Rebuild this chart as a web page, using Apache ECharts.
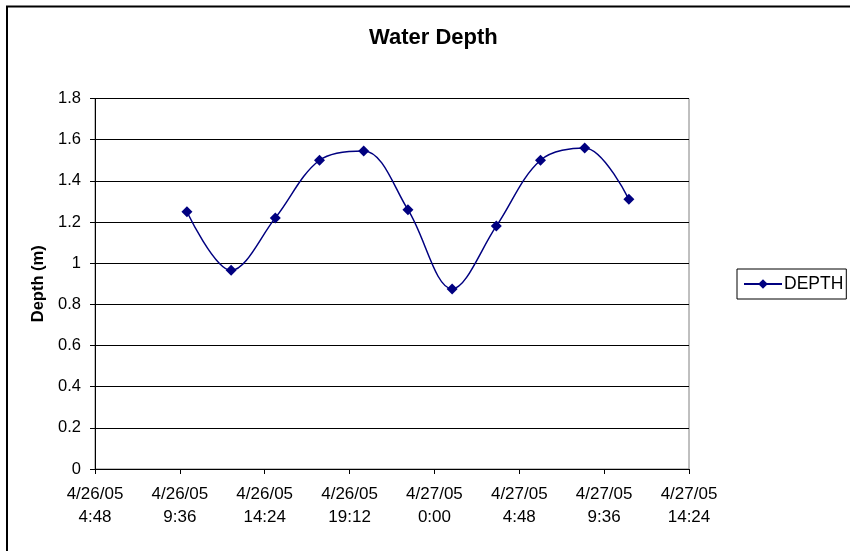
<!DOCTYPE html>
<html>
<head>
<meta charset="UTF-8">
<title>Water Depth</title>
<script src="https://cdn.jsdelivr.net/npm/echarts@6/dist/echarts.min.js"></script>
<style>
  html, body { margin: 0; padding: 0; background: #fff; }
  #main { width: 850px; height: 551px; }
</style>
</head>
<body>
<div id="main"></div>
<script>
// readings, every 2.5 h
var times = ['4/26/05 10:00', '4/26/05 12:30', '4/26/05 15:00', '4/26/05 17:30', '4/26/05 20:00',
             '4/26/05 22:30', '4/27/05 1:00', '4/27/05 3:30', '4/27/05 6:00', '4/27/05 8:30', '4/27/05 11:00'];
var depth = [1.25, 0.965, 1.22, 1.50, 1.545, 1.26, 0.875, 1.18, 1.50, 1.56, 1.31];

// x axis runs in hours from 4/26/05 0:00
var xMin = 4.8, xMax = 38.4, xStep = 4.8;

function toHours(s) {
  var p = s.split(' '), d = p[0].split('/'), t = p[1].split(':');
  return (parseInt(d[1], 10) - 26) * 24 + parseInt(t[0], 10) + parseInt(t[1], 10) / 60;
}
function hoursLabel(v) {
  var m = Math.round(v * 60);
  var day = 26 + Math.floor(m / 1440);
  m = m % 1440;
  var h = Math.floor(m / 60), mm = m % 60;
  return '4/' + day + '/05\n' + h + ':' + (mm < 10 ? '0' : '') + mm;
}

var seriesData = [];
for (var i = 0; i < times.length; i++) seriesData.push([toHours(times[i]), depth[i]]);

var font = 'Liberation Sans, Arial, sans-serif';
var chart = echarts.init(document.getElementById('main'));

chart.setOption({
  backgroundColor: '#fff',
  animation: false,
  title: {
    text: 'Water Depth',
    left: 364, top: 22,
    textStyle: { fontFamily: font, fontSize: 22, fontWeight: 'bold', color: '#000' }
  },
  graphic: [{
    type: 'rect', silent: true,
    shape: { x: 7, y: 6.5, width: 860, height: 570 },
    style: { fill: null, stroke: '#000', lineWidth: 2 }
  }],
  legend: {
    left: 737, top: 269,
    orient: 'vertical',
    data: ['DEPTH'],
    itemWidth: 38, itemHeight: 12, itemGap: 0,
    padding: [6, 3, 6, 6],
    borderColor: '#000', borderWidth: 1,
    textStyle: { fontFamily: font, fontSize: 17.5, color: '#000', padding: [0, 0, 0, -3] }
  },
  grid: { left: 95, top: 98.5, right: 161, bottom: 82, show: true, borderColor: '#808080', borderWidth: 1 },
  xAxis: {
    type: 'value',
    min: xMin, max: xMax, interval: xStep,
    axisLine: { show: true, onZero: false, lineStyle: { color: '#000', width: 1 } },
    axisTick: { show: true, length: 5, lineStyle: { color: '#000' } },
    splitLine: { show: false },
    axisLabel: {
      formatter: hoursLabel, margin: 14,
      fontFamily: font, fontSize: 17, lineHeight: 23, color: '#000',
      showMinLabel: true, showMaxLabel: true
    }
  },
  yAxis: {
    type: 'value',
    min: 0, max: 1.8, interval: 0.2,
    name: 'Depth (m)',
    nameLocation: 'middle', nameGap: 48,
    nameTextStyle: { fontFamily: font, fontSize: 16.5, fontWeight: 'bold', color: '#000' },
    axisLine: { show: true, lineStyle: { color: '#000', width: 1 } },
    axisTick: { show: true, length: 5, lineStyle: { color: '#000' } },
    splitLine: { show: true, lineStyle: { color: '#000', width: 1 } },
    axisLabel: {
      formatter: function (v) { return String(Math.round(v * 10) / 10); },
      margin: 14, fontFamily: font, fontSize: 16.5, color: '#000'
    }
  },
  series: [{
    name: 'DEPTH',
    type: 'line',
    data: seriesData,
    smooth: 0.35,
    symbol: 'diamond',
    symbolSize: 11,
    itemStyle: { color: '#000080' },
    lineStyle: { color: '#000080', width: 1.5 }
  }]
});
</script>
</body>
</html>
